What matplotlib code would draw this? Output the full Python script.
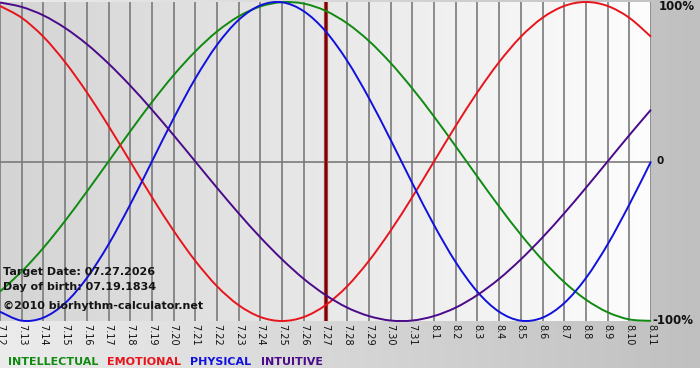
import numpy as np
import matplotlib
matplotlib.use("Agg")
import matplotlib.pyplot as plt
from matplotlib.colors import LinearSegmentedColormap
from matplotlib.path import Path
from matplotlib.patches import PathPatch

days = ["7.12", "7.13", "7.14", "7.15", "7.16", "7.17", "7.18", "7.19", "7.20", "7.21",
        "7.22", "7.23", "7.24", "7.25", "7.26", "7.27", "7.28", "7.29", "7.30", "7.31",
        "8.1", "8.2", "8.3", "8.4", "8.5", "8.6", "8.7", "8.8", "8.9", "8.10", "8.11"]

intellectual = [-0.815, -0.690, -0.541, -0.372, -0.189, 0.0, 0.189, 0.372, 0.541, 0.690,
                0.815, 0.910, 0.972, 0.999, 0.990, 0.945, 0.866, 0.756, 0.618, 0.458,
                0.282, 0.095, -0.095, -0.282, -0.458, -0.618, -0.756, -0.866, -0.945, -0.990, -0.999]
emotional = [0.975, 0.901, 0.782, 0.623, 0.434, 0.223, 0.0, -0.223, -0.434, -0.623,
             -0.782, -0.901, -0.975, -1.0, -0.975, -0.901, -0.782, -0.623, -0.434, -0.223,
             0.0, 0.223, 0.434, 0.623, 0.782, 0.901, 0.975, 1.0, 0.975, 0.901, 0.782]
physical = [-0.942, -0.998, -0.979, -0.888, -0.731, -0.520, -0.270, 0.0, 0.270, 0.520,
            0.731, 0.888, 0.979, 0.998, 0.942, 0.817, 0.631, 0.398, 0.136, -0.136,
            -0.398, -0.631, -0.817, -0.942, -0.998, -0.979, -0.888, -0.731, -0.520, -0.270, 0.0]
intuitive = [0.997, 0.969, 0.916, 0.837, 0.736, 0.614, 0.476, 0.325, 0.165, 0.0,
             -0.165, -0.325, -0.476, -0.614, -0.736, -0.837, -0.916, -0.969, -0.997, -0.997,
             -0.969, -0.916, -0.837, -0.736, -0.614, -0.476, -0.325, -0.165, 0.0, 0.165, 0.325]

series_names = ["INTELLECTUAL", "EMOTIONAL", "PHYSICAL", "INTUITIVE"]
series_colors = ["#108a10", "#e8141b", "#1111dd", "#4a0a8a"]
target_label = "7.27"
y_labels = ["100%", "0", "-100%"]
info_lines = ["Target Date: 07.27.2026", "Day of birth: 07.19.1834", "\u00a92010 biorhythm-calculator.net"]


def smooth_path(xs, ys):
    """Smooth line through the data points (Catmull-Rom drawn as cubic Bezier)."""
    xs = np.asarray(xs, float)
    ys = np.asarray(ys, float)
    n = len(xs)
    verts = [(xs[0], ys[0])]
    codes = [Path.MOVETO]
    for i in range(n - 1):
        p0 = (xs[max(i - 1, 0)], ys[max(i - 1, 0)])
        p1 = (xs[i], ys[i])
        p2 = (xs[i + 1], ys[i + 1])
        p3 = (xs[min(i + 2, n - 1)], ys[min(i + 2, n - 1)])
        c1 = (p1[0] + (p2[0] - p0[0]) / 6, p1[1] + (p2[1] - p0[1]) / 6)
        c2 = (p2[0] - (p3[0] - p1[0]) / 6, p2[1] - (p3[1] - p1[1]) / 6)
        verts += [c1, c2, p2]
        codes += [Path.CURVE4] * 3
    return Path(verts, codes)


W, H = 700, 380
fig = plt.figure(figsize=(W / 100, H / 100), dpi=100)

# figure background gradient
bg = fig.add_axes([0, 12 / H, 1, 1 - 12 / H], zorder=-10)
bg_cmap = LinearSegmentedColormap.from_list("bg", ["#ececec", "#c0c0c0"])
bg.imshow(np.linspace(0, 1, 256)[None, :], aspect="auto", cmap=bg_cmap, extent=[0, 1, 0, 1])
bg.set_axis_off()

left, right, top, bottom = 0, 651, 2, 321
ax = fig.add_axes([left / W, 1 - bottom / H, (right - left) / W, (bottom - top) / H])
x = np.arange(len(days))
ax.set_xlim(0, len(days) - 1)
ax.set_ylim(-1, 1)

pa_cmap = LinearSegmentedColormap.from_list("pa", ["#d4d4d4", "#fdfdfd"])
ax.imshow(np.linspace(0, 1, 256)[None, :], aspect="auto", cmap=pa_cmap,
          extent=[0, len(days) - 1, -1, 1], zorder=0)

for xi in x:
    ax.axvline(xi, color="#7a7a7a", lw=1.2, zorder=1)
ax.axhline(0, color="#7a7a7a", lw=1.2, zorder=1)

ti = days.index(target_label)
ax.axvline(ti, color="#c04040", lw=3.0, zorder=2)
ax.axvline(ti, color="#6a0a0a", lw=1.6, zorder=2)

for vals, col in zip([intellectual, emotional, physical, intuitive], series_colors):
    patch = PathPatch(smooth_path(x, vals), facecolor="none", edgecolor=col, lw=1.4,
                      zorder=3, clip_on=False)
    ax.add_patch(patch)

ax.set_xticks(x)
ax.set_xticklabels(days, rotation=270, fontsize=7, va="top", ha="center", color="#111111")
ax.tick_params(axis="x", length=0, pad=2)
ax.set_yticks([])
for s in ax.spines.values():
    s.set_visible(False)

# right labels
for lab, yv in zip(y_labels, [1, 0, -1]):
    fs = 8.5 if lab != "0" else 7.5
    dx = 0.35 if lab == "100%" else (0.25 if lab == "0" else 0.05)
    ax.text(len(days) - 1 + dx, yv - (0.03 if yv == 1 else 0), lab, fontsize=fs, fontweight="bold",
            ha="left", va="center", color="#111111", clip_on=False)

# info text
for line, yp in zip(info_lines, [272, 287, 306]):
    fig.text(3 / W, 1 - yp / H, line, fontsize=8, fontweight="bold", color="#151515",
             ha="left", va="center", zorder=5)

# legend
lx = 8
for name, col in zip(series_names, series_colors):
    t = fig.text(lx / W, 1 - 362 / H, name, fontsize=8, fontweight="bold", color=col,
                 ha="left", va="center")
    fig.canvas.draw()
    bb = t.get_window_extent()
    lx = bb.x1 + 9

fig.savefig("out.png", dpi=100)
